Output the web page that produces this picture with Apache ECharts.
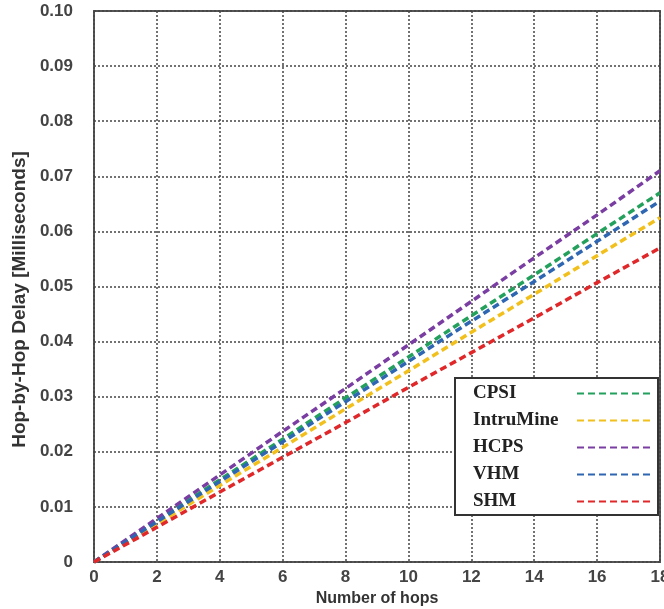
<!DOCTYPE html>
<html>
<head>
<meta charset="utf-8">
<script src="https://cdn.jsdelivr.net/npm/echarts@6/dist/echarts.min.js"></script>
<style>
html, body { margin: 0; padding: 0; background: #fff; }
#main { width: 664px; height: 609px; }
</style>
</head>
<body>
<div id="main"></div>
<script>
// number of hops (x)
var hops = [0, 2, 4, 6, 8, 10, 12, 14, 16, 18];

// hop-by-hop delay
var cpsi      = [0, 0.0075, 0.0149, 0.0223, 0.0298, 0.0372, 0.0447, 0.0521, 0.0596, 0.0670];
var intruMine = [0, 0.0069, 0.0139, 0.0208, 0.0278, 0.0347, 0.0417, 0.0486, 0.0556, 0.0625];
var hcps      = [0, 0.0079, 0.0158, 0.0237, 0.0315, 0.0394, 0.0473, 0.0552, 0.0630, 0.0710];
var vhm       = [0, 0.0073, 0.0146, 0.0218, 0.0291, 0.0364, 0.0437, 0.0509, 0.0582, 0.0655];
var shm       = [0, 0.0063, 0.0127, 0.0190, 0.0253, 0.0317, 0.0380, 0.0443, 0.0507, 0.0570];

var names  = ['CPSI', 'IntruMine', 'HCPS', 'VHM', 'SHM'];
var values = [cpsi, intruMine, hcps, vhm, shm];
var colors = ['#23a05c', '#f2c01c', '#7a3ea2', '#2e66b2', '#e0282a'];

function pairs(arr) {
    return hops.map(function (h, i) { return [h, arr[i]]; });
}

var chart = echarts.init(document.getElementById('main'));

var series = names.map(function (n, i) {
    return {
        name: n,
        type: 'line',
        data: pairs(values[i]),
        symbol: 'none',
        color: colors[i],
        lineStyle: { width: 3.5, type: [7, 4], color: colors[i] },
        z: 3
    };
});

chart.setOption({
    animation: false,
    grid: {
        left: 94, right: 4, top: 11, bottom: 47,
        outerBoundsMode: 'none',
        show: true, borderColor: '#555', borderWidth: 2
    },
    legend: {
        orient: 'vertical',
        left: 455, top: 378,
        align: 'right',
        padding: [6, 5, 4, 18],
        itemGap: 8,
        itemWidth: 75,
        itemHeight: 14,
        backgroundColor: '#fff',
        borderColor: '#333',
        borderWidth: 2,
        borderRadius: 0,
        z: 10,
        data: names,
        itemStyle: { opacity: 0 },
        formatter: '{t|{name}}',
        textStyle: {
            fontFamily: 'Liberation Serif',
            fontWeight: 'bold',
            fontSize: 19,
            color: '#222',
            rich: {
                t: {
                    width: 99, align: 'left', lineHeight: 19,
                    fontFamily: 'Liberation Serif', fontWeight: 'bold', fontSize: 19, color: '#222'
                }
            }
        }
    },
    xAxis: {
        type: 'value',
        min: 0, max: 18, interval: 2,
        name: 'Number of hops',
        nameLocation: 'middle',
        nameGap: 27,
        nameTextStyle: { fontFamily: 'Liberation Sans', fontWeight: 'bold', fontSize: 16, color: '#333' },
        axisLine: { show: false },
        axisTick: { show: false },
        axisLabel: { margin: 7, fontFamily: 'Liberation Sans', fontWeight: 'bold', fontSize: 17, color: '#444' },
        splitLine: { show: true, lineStyle: { color: '#444', width: 1.5, type: [2, 2] } }
    },
    yAxis: {
        type: 'value',
        min: 0, max: 0.1, interval: 0.01,
        name: 'Hop-by-Hop Delay [Milliseconds]',
        nameLocation: 'middle',
        nameGap: 59,
        nameTextStyle: {
            fontFamily: 'Liberation Sans', fontWeight: 'bold', fontSize: 19, color: '#333',
            padding: [0, 26, 0, 0]
        },
        axisLine: { show: false },
        axisTick: { show: false },
        axisLabel: {
            margin: 21,
            fontFamily: 'Liberation Sans', fontWeight: 'bold', fontSize: 17, color: '#444',
            formatter: function (v) { return v === 0 ? '0' : v.toFixed(2); }
        },
        splitLine: { show: true, lineStyle: { color: '#444', width: 1.5, type: [2, 2] } }
    },
    series: series
});
</script>
</body>
</html>
